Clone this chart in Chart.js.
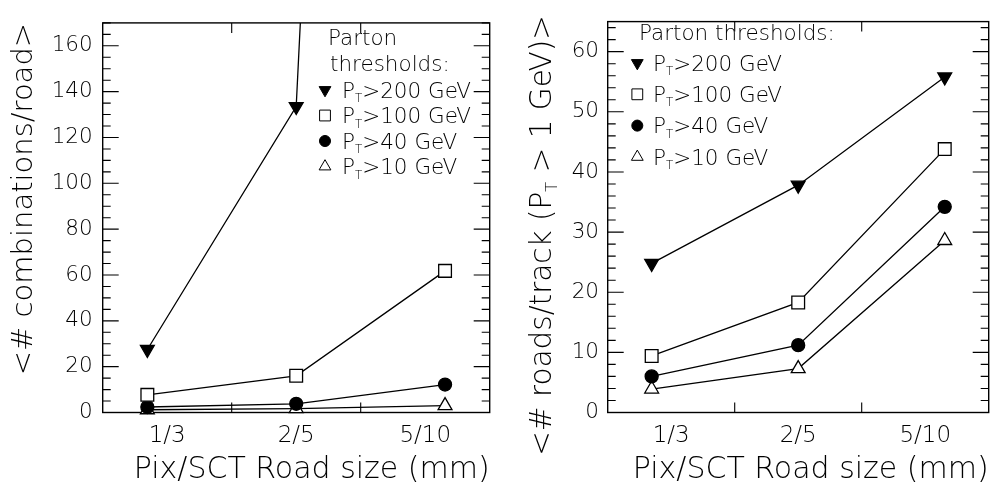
<!DOCTYPE html>
<html>
<head>
<meta charset="utf-8">
<script src="https://cdn.jsdelivr.net/npm/chart.js@4.4.1/dist/chart.umd.min.js"></script>
<style>
  html, body { margin: 0; padding: 0; background: #fff; }
  #wrap { position: relative; width: 999px; height: 494px; }
  .panel { position: absolute; top: 0; height: 494px; }
  #left { left: 0; width: 500px; }
  #right { left: 500px; width: 499px; }
</style>
</head>
<body>
<div id="wrap">
  <div class="panel" id="left"><canvas id="comb"></canvas></div>
  <div class="panel" id="right"><canvas id="roads"></canvas></div>
</div>
<script>
// data
var roadSizes = ['1/3', '2/5', '5/10'];
var thresholds = [200, 100, 40, 10];

var combPt200 = [27.5, 133.5, 1450];
var combPt100 = [7.7, 16.0, 61.8];
var combPt40 = [2.4, 3.8, 12.2];
var combPt10 = [1.2, 1.7, 3.0];

var roadsPt200 = [24.8, 37.8, 55.8];
var roadsPt100 = [9.4, 18.3, 43.8];
var roadsPt40 = [6.0, 11.2, 34.2];
var roadsPt10 = [3.9, 7.3, 28.6];

var combYTicks = [0, 20, 40, 60, 80, 100, 120, 140, 160];
var roadsYTicks = [0, 10, 20, 30, 40, 50, 60];

var FONT = 'DejaVu Sans';
var WEIGHT = '200';

Chart.defaults.font.family = FONT;
Chart.defaults.font.weight = WEIGHT;
Chart.defaults.color = '#000';

var markers = [
	{ pointStyle: 'triangle', rotation: 180, fill: '#000', radius: 8 },
	{ pointStyle: 'rect', rotation: 0, fill: '#fff', radius: 9 },
	{ pointStyle: 'circle', rotation: 0, fill: '#000', radius: 6.5 },
	{ pointStyle: 'triangle', rotation: 0, fill: '#fff', radius: 8 }
];

function makeDataset(values, k) {
	var m = markers[k];
	return {
		label: 'PT>' + thresholds[k] + ' GeV',
		data: values.map(function (v, i) { return { x: i + 1, y: v }; }),
		borderColor: '#000',
		borderWidth: 1.3,
		pointStyle: m.pointStyle,
		rotation: m.rotation,
		pointRadius: m.radius,
		pointBackgroundColor: m.fill,
		pointBorderColor: '#000',
		pointBorderWidth: 1.3,
		tension: 0,
		clip: { left: 12, right: 12, top: 0, bottom: 12 }
	};
}

// text like "P_T>200 GeV" with a small subscript T
function drawPt(ctx, x, y, rest, size) {
	var base = y + size * 0.365;
	ctx.textAlign = 'left';
	ctx.textBaseline = 'alphabetic';
	ctx.font = WEIGHT + ' ' + size + 'px "' + FONT + '"';
	ctx.fillText('P', x, base);
	x += ctx.measureText('P').width;
	var sub = size * 0.55;
	ctx.font = WEIGHT + ' ' + sub + 'px "' + FONT + '"';
	ctx.fillText('T', x, base + size * 0.2);
	x += ctx.measureText('T').width;
	ctx.font = WEIGHT + ' ' + size + 'px "' + FONT + '"';
	ctx.fillText(rest, x, base);
	return x + ctx.measureText(rest).width;
}

var framePlugin = {
	id: 'frame',
	beforeDatasetsDraw: function (chart, args, opts) {
		var ctx = chart.ctx, a = chart.chartArea;
		var xs = chart.scales.x, ys = chart.scales.y;
		ctx.save();
		ctx.strokeStyle = '#000';
		ctx.lineWidth = 1.4;
		ctx.strokeRect(a.left, a.top, a.right - a.left, a.bottom - a.top);
		ctx.lineWidth = 1.1;
		ctx.beginPath();
		for (var v = ys.min; v <= ys.max + 1e-9; v += opts.minor) {
			var py = ys.getPixelForValue(v);
			var r = v / opts.major;
			var len = Math.abs(r - Math.round(r)) < 1e-6 ? 16 : 8;
			ctx.moveTo(a.left, py); ctx.lineTo(a.left + len, py);
			ctx.moveTo(a.right, py); ctx.lineTo(a.right - len, py);
		}
		for (var k = 1; k < roadSizes.length; k++) {
			var px = xs.getPixelForValue(xs.min + (xs.max - xs.min) * k / roadSizes.length);
			ctx.moveTo(px, a.bottom); ctx.lineTo(px, a.bottom - 10);
			ctx.moveTo(px, a.top); ctx.lineTo(px, a.top + 10);
		}
		ctx.stroke();
		ctx.restore();
	}
};

var legendPlugin = {
	id: 'ptLegend',
	afterDraw: function (chart, args, opts) {
		var ctx = chart.ctx;
		ctx.save();
		ctx.fillStyle = '#000';
		ctx.font = WEIGHT + ' ' + opts.size + 'px "' + FONT + '"';
		ctx.textAlign = 'left';
		ctx.textBaseline = 'alphabetic';
		opts.title.forEach(function (t, i) {
			ctx.fillText(t, opts.titleX[i], opts.titleY[i] + opts.size * 0.365);
		});
		thresholds.forEach(function (t, k) {
			var y = opts.rowY + k * opts.rowGap;
			var m = markers[k];
			ctx.fillStyle = m.fill;
			ctx.strokeStyle = '#000';
			Chart.helpers.drawPoint(ctx, {
				pointStyle: m.pointStyle, rotation: m.rotation,
				radius: m.radius * 0.85, borderWidth: 1.3
			}, opts.markerX, y);
			ctx.fillStyle = '#000';
			drawPt(ctx, opts.textX, y, '>' + t + ' GeV', opts.size);
		});
		ctx.restore();
	}
};

var yTitlePlugin = {
	id: 'ptTitle',
	afterDraw: function (chart, args, opts) {
		if (!opts.parts) return;
		var ctx = chart.ctx;
		ctx.save();
		ctx.fillStyle = '#000';
		ctx.font = WEIGHT + ' ' + opts.size + 'px "' + FONT + '"';
		var w0 = ctx.measureText(opts.parts[0]).width + ctx.measureText('P').width + ctx.measureText(opts.parts[1]).width;
		ctx.font = WEIGHT + ' ' + (opts.size * 0.55) + 'px "' + FONT + '"';
		w0 += ctx.measureText('T').width;
		ctx.translate(opts.x, opts.yEnd);
		ctx.rotate(-Math.PI / 2);
		ctx.font = WEIGHT + ' ' + opts.size + 'px "' + FONT + '"';
		ctx.textAlign = 'left';
		ctx.textBaseline = 'alphabetic';
		var x = -w0;
		ctx.fillText(opts.parts[0], x, opts.size * 0.365);
		x += ctx.measureText(opts.parts[0]).width;
		drawPt(ctx, x, 0, opts.parts[1], opts.size);
		ctx.restore();
	}
};

function buildChart(id, values, cfg) {
	var yTitle = cfg.yTitle ? {
		display: true, text: cfg.yTitle, align: 'end',
		font: { size: 29 }, padding: { top: 7, bottom: 0 }
	} : { display: false };
	return new Chart(document.getElementById(id), {
		type: 'line',
		data: { datasets: values.map(makeDataset) },
		plugins: [framePlugin, legendPlugin, yTitlePlugin],
		options: {
			responsive: true,
			maintainAspectRatio: false,
			animation: false,
			layout: { padding: { top: 7.5, right: cfg.padRight, left: 0, bottom: 0 } },
			scales: {
				x: {
					type: 'linear', min: 0.7, max: 3.3,
					afterBuildTicks: function (s) {
						s.ticks = roadSizes.map(function (_, i) {
							return { value: s.min + (s.max - s.min) * (i + 0.5) / roadSizes.length };
						});
					},
					afterFit: function (s) { s.height = 81.5; },
					grid: { display: false, drawTicks: false },
					border: { display: false },
					ticks: {
						padding: 9.5, maxRotation: 0, autoSkip: false,
						font: { size: 23 },
						callback: function (v, i) { return roadSizes[i]; }
					},
					title: {
						display: true, text: 'Pix/SCT Road size (mm)', align: 'end',
						font: { size: 30 }, padding: { top: 0, bottom: 6 }
					}
				},
				y: {
					type: 'linear', min: 0, max: cfg.yMax,
					afterBuildTicks: function (s) {
						s.ticks = cfg.yTicks.map(function (v) { return { value: v }; });
					},
					afterFit: function (s) { s.width = cfg.yWidth; },
					grid: { display: false, drawTicks: false },
					border: { display: false },
					ticks: { padding: cfg.labelPad, font: { size: 21.5 } },
					title: yTitle
				}
			},
			plugins: {
				legend: { display: false },
				tooltip: { enabled: false },
				frame: { minor: cfg.minor, major: cfg.major },
				ptLegend: cfg.legend,
				ptTitle: cfg.ptTitle || {}
			}
		}
	});
}

buildChart('comb', [combPt200, combPt100, combPt40, combPt10], {
	yMax: 170, yTicks: combYTicks, minor: 5, major: 20,
	yWidth: 102.7, labelPad: 10, padRight: 7,
	yTitle: '<# combinations/road>',
	legend: {
		size: 21.5, title: ['Parton', 'thresholds:'],
		titleX: [328, 330], titleY: [37, 63],
		markerX: 325, textX: 342, rowY: 90, rowGap: 25.5
	}
});

buildChart('roads', [roadsPt200, roadsPt100, roadsPt40, roadsPt10], {
	yMax: 65, yTicks: roadsYTicks, minor: 2, major: 10,
	yWidth: 107.7, labelPad: 8.7, padRight: 1.3,
	legend: {
		size: 21.5, title: ['Parton thresholds:'],
		titleX: [139], titleY: [32],
		markerX: 137.3, textX: 153, rowY: 63, rowGap: 31.3
	},
	ptTitle: { size: 29.5, x: 40, yEnd: 15, parts: ['<# roads/track (', ' > 1 GeV)>'] }
});
</script>
</body>
</html>
